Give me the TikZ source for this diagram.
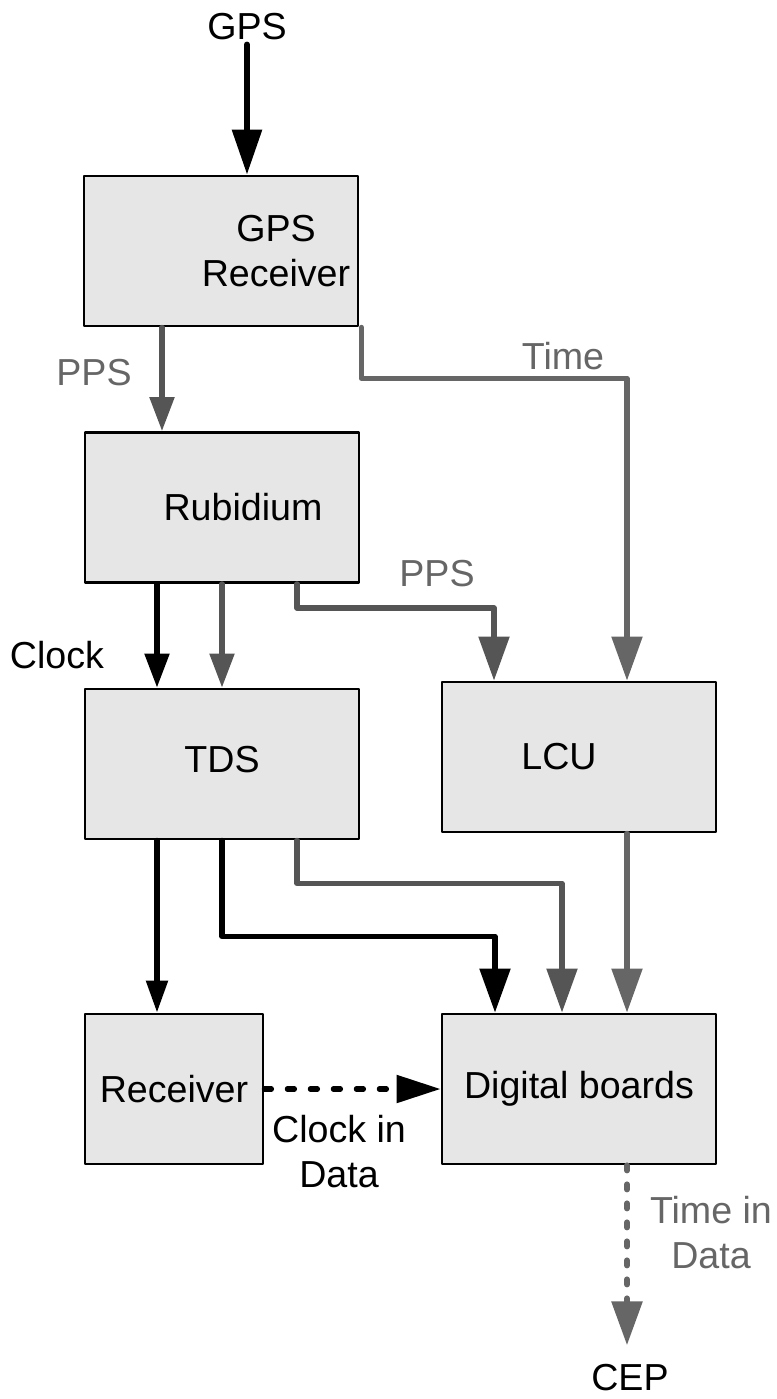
\documentclass[tikz,border=0pt]{standalone}
\usepackage{fontspec}
\setmainfont{Liberation Sans}
\usetikzlibrary{arrows.meta}
\definecolor{boxgray}{HTML}{E6E6E6}
\definecolor{darkg}{HTML}{555555}
\definecolor{midg}{HTML}{666666}

\begin{document}
\begin{tikzpicture}[line cap=round,line join=round,
  font=\fontsize{10.7}{12.8}\selectfont,
  box/.style={draw,fill=boxgray,line width=0.8pt,minimum width=2.74cm,minimum height=1.5cm,inner sep=0pt},
  glbl/.style={text=midg,align=center},
  sm/.style={line width=1.5pt,-{Triangle[length=3.4mm,width=2.4mm]}},
  lg/.style={line width=1.5pt,-{Triangle[length=4.4mm,width=3.0mm]}}]
\useasboundingbox (0,0) rectangle (7.77,-13.99);
% boxes
\node[inner sep=1pt] (gps) at (2.47,-0.27) {GPS};
\node[box,align=center] (gpsr) at (2.21,-2.51) {\hspace*{11mm}GPS\\\hspace*{11mm}Receiver};
\node[box]   (rub) at (2.22,-5.075) {\hspace*{4.2mm}Rubidium};
\node[box]   (tds) at (2.22,-7.64) {\raisebox{0.9mm}{TDS}};
\node[box]   (lcu) at (5.79,-7.57) {LCU\hspace*{4mm}};
\node[box,minimum width=1.78cm] (rcv) at (1.74,-10.89) {Receiver};
\node[box]   (dig) at (5.79,-10.89) {Digital boards};
\node        (cep) at (6.30,-13.78) {CEP};
% labels
\node[glbl]  (pps1) at (0.94,-3.73) {PPS};
\node[glbl]  (time) at (5.63,-3.56) {Time};
\node[glbl]  (pps2) at (4.37,-5.74) {PPS};
\node        (clk) at (0.57,-6.55) {Clock};
\node[align=center] (cid) at (3.39,-11.52) {Clock in\\Data};
\node[glbl]  (tid) at (7.11,-12.33) {Time in\\Data};
% connections
\draw[line width=1.7pt,-{Triangle[length=4.5mm,width=2.9mm]}] (gps.south) -- (gps.south |- gpsr.north);
\draw[sm,darkg] ([xshift=-5.9mm]gpsr.south) -- ([xshift=-5.9mm]gpsr.south |- rub.north);
\draw[lg,midg] ([xshift=0.2mm]gpsr.south east) -- ++(0,-0.51) -| ([xshift=4.8mm]lcu.north);
\draw[sm] ([xshift=-6.5mm]rub.south) -- ([xshift=-6.5mm]rub.south |- tds.north);
\draw[sm,darkg] (rub.south) -- (tds.north);
\draw[lg,darkg] ([xshift=7.5mm]rub.south) -- ++(0,-0.24) -| ([xshift=-8.5mm]lcu.north);
\draw[line width=1.5pt,-{Triangle[length=3.2mm,width=2.1mm]}] ([xshift=-6.5mm]tds.south) -- ([xshift=-6.5mm]tds.south |- rcv.north);
\draw[lg] (tds.south) -- ++(0,-0.96) -| ([xshift=-8.4mm]dig.north);
\draw[lg,darkg] ([xshift=7.5mm]tds.south) -- ++(0,-0.43) -| ([xshift=-1.7mm]dig.north);
\draw[lg,midg] ([xshift=4.8mm]lcu.south) -- ([xshift=4.8mm]dig.north);
\draw[line width=1.5pt,dash pattern=on 0.07cm off 0.16cm,-{Triangle[length=4.4mm,width=2.7mm]}] (rcv.east) -- (dig.west);
\draw[lg,midg,line width=1.7pt,dash pattern=on 0.05cm off 0.14cm,shorten >=0.7mm] ([xshift=4.8mm]dig.south) -- ([xshift=4.8mm]dig.south |- cep.north);
\end{tikzpicture}
\end{document}
